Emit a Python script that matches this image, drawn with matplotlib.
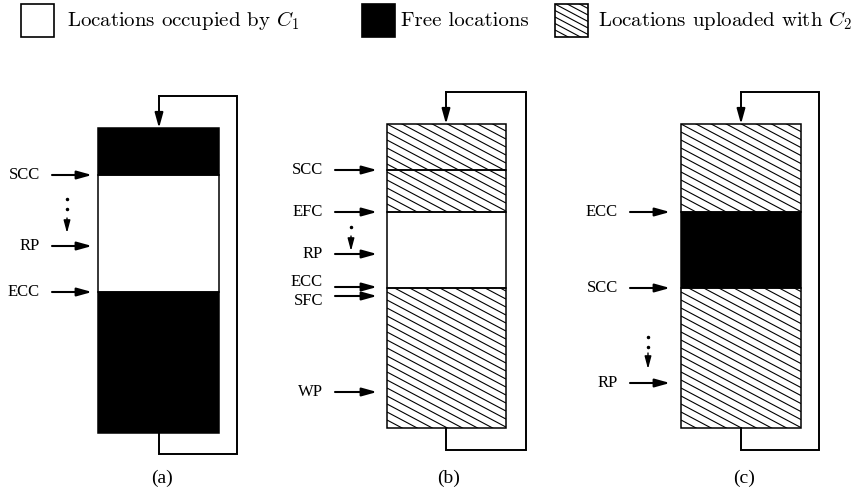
import numpy as np
import matplotlib
matplotlib.use('Agg')
import matplotlib.pyplot as plt
from matplotlib.patches import Rectangle, FancyArrowPatch

plt.rcParams['mathtext.fontset'] = 'cm'
plt.rcParams['axes.formatter.use_mathtext'] = True

# ---- data (pixel units of the 860x493 picture) ----
captions = ['(a)', '(b)', '(c)']
box_left = [98, 387, 681]
box_right = [219, 506, 801]
# segment boundaries (top -> bottom) and what fills each segment
bounds_a = [128, 175, 292, 433]
fills_a = ['free', 'c1', 'free']
bounds_b = [124, 170, 212, 288, 428]
fills_b = ['c2', 'c2', 'c1', 'c2']
bounds_c = [124, 212, 288, 428]
fills_c = ['c2', 'free', 'c2']
all_bounds = [bounds_a, bounds_b, bounds_c]
all_fills = [fills_a, fills_b, fills_c]

# wrap-around loop
loop_x = [159, 446, 741]
loop_top = [96, 92, 92]
loop_right = [237, 526, 819]
loop_bottom = [454, 450, 450]

# pointer labels: (name, arrow y, text y)
pointers_a = [('SCC', 175, 175), ('RP', 246, 246), ('ECC', 292, 292)]
pointers_b = [('SCC', 170, 170), ('EFC', 212, 212), ('RP', 254, 254),
              ('ECC', 287, 282), ('SFC', 296, 301), ('WP', 392, 392)]
pointers_c = [('ECC', 212, 212), ('SCC', 288, 288), ('RP', 383, 383)]
all_pointers = [pointers_a, pointers_b, pointers_c]
arrow_start = [52, 335, 630]
arrow_end = [92, 377, 670]

# dotted "moves towards" arrows: x, dot ys, head start, head end
dot_x = [67, 351, 648]
dot_ys = [[199, 209], [227], [337, 347]]
dot_head = [(218, 233), (236, 251), (353, 369)]

caption_y = 478

legend_labels = [r'Locations occupied by $C_1$', 'Free locations',
                 r'Locations uploaded with $C_2$']
legend_kind = ['c1', 'free', 'c2']
legend_box_x = [21, 362, 555]
legend_text_x = [67, 401, 598]

hatch_slope = 0.53
hatch_step = 8.0

fig = plt.figure(figsize=(8.6, 4.93), dpi=100)
ax = fig.add_axes([0, 0, 1, 1])
ax.set_xlim(0, 860)
ax.set_ylim(493, 0)
ax.axis('off')


def hatch_rect(x0, x1, y0, y1, ref_x, ref_y, step=hatch_step, lw=0.8):
    clip = Rectangle((x0, y0), x1 - x0, y1 - y0, transform=ax.transData,
                     facecolor='none', edgecolor='none')
    ax.add_patch(clip)
    kmin = int(np.floor((y0 - ref_y - hatch_slope * (x1 - ref_x)) / step)) - 1
    kmax = int(np.ceil((y1 - ref_y - hatch_slope * (x0 - ref_x)) / step)) + 1
    for k in range(kmin, kmax + 1):
        ys = [ref_y + k * step + hatch_slope * (x0 - ref_x),
              ref_y + k * step + hatch_slope * (x1 - ref_x)]
        ln, = ax.plot([x0, x1], ys, color='black', lw=lw, solid_capstyle='butt')
        ln.set_clip_path(clip)


def fill_rect(x0, x1, y0, y1, kind, ref_x, ref_y, step=hatch_step, lw=1.1):
    face = 'black' if kind == 'free' else 'white'
    ax.add_patch(Rectangle((x0, y0), x1 - x0, y1 - y0, facecolor=face,
                           edgecolor='none', zorder=1))
    if kind == 'c2':
        hatch_rect(x0, x1, y0, y1, ref_x, ref_y, step)
    ax.add_patch(Rectangle((x0, y0), x1 - x0, y1 - y0, facecolor='none',
                           edgecolor='black', lw=lw, zorder=3))


def arrow(p0, p1, lw=1.5, hl=0.9, hw=0.25):
    style = '-|>,head_length=%g,head_width=%g' % (hl, hw)
    ax.add_patch(FancyArrowPatch(p0, p1, arrowstyle=style,
                                 mutation_scale=10, color='black', lw=lw,
                                 shrinkA=0, shrinkB=0, zorder=4))


for i in range(3):
    x0, x1 = box_left[i], box_right[i]
    b = all_bounds[i]
    for j, kind in enumerate(all_fills[i]):
        fill_rect(x0, x1, b[j], b[j + 1], kind, x0, b[0])

    # loop
    ax.plot([loop_x[i], loop_x[i], loop_right[i], loop_right[i], loop_x[i]],
            [b[-1], loop_bottom[i], loop_bottom[i], loop_top[i], loop_top[i]],
            color='black', lw=1.4, solid_joinstyle='miter')
    arrow((loop_x[i], loop_top[i]), (loop_x[i], b[0]), lw=1.4, hl=0.9, hw=0.25)

    # pointers
    for name, ya, yt in all_pointers[i]:
        arrow((arrow_start[i], ya), (arrow_end[i], ya))
        ax.text(arrow_start[i] - 12, yt, name, ha='right', va='center',
                fontsize=12, family='Liberation Serif')

    # dotted movement arrow
    ax.plot([dot_x[i]] * len(dot_ys[i]), dot_ys[i], 'o', color='black', ms=1.5)
    arrow((dot_x[i], dot_head[i][0]), (dot_x[i], dot_head[i][1]), lw=1.0,
          hl=0.75, hw=0.2)

    ax.text(loop_x[i] + 3, caption_y, captions[i], ha='center', va='center',
            fontsize=14, family='Liberation Serif')

# legend
for k in range(3):
    fill_rect(legend_box_x[k], legend_box_x[k] + 33, 4, 37, legend_kind[k],
              legend_box_x[k], 4, step=6.5, lw=1.2)
    ax.text(legend_text_x[k], 21, legend_labels[k], ha='left', va='center',
            fontsize=15, family='cmr10')

fig.savefig('out.png', dpi=100)
